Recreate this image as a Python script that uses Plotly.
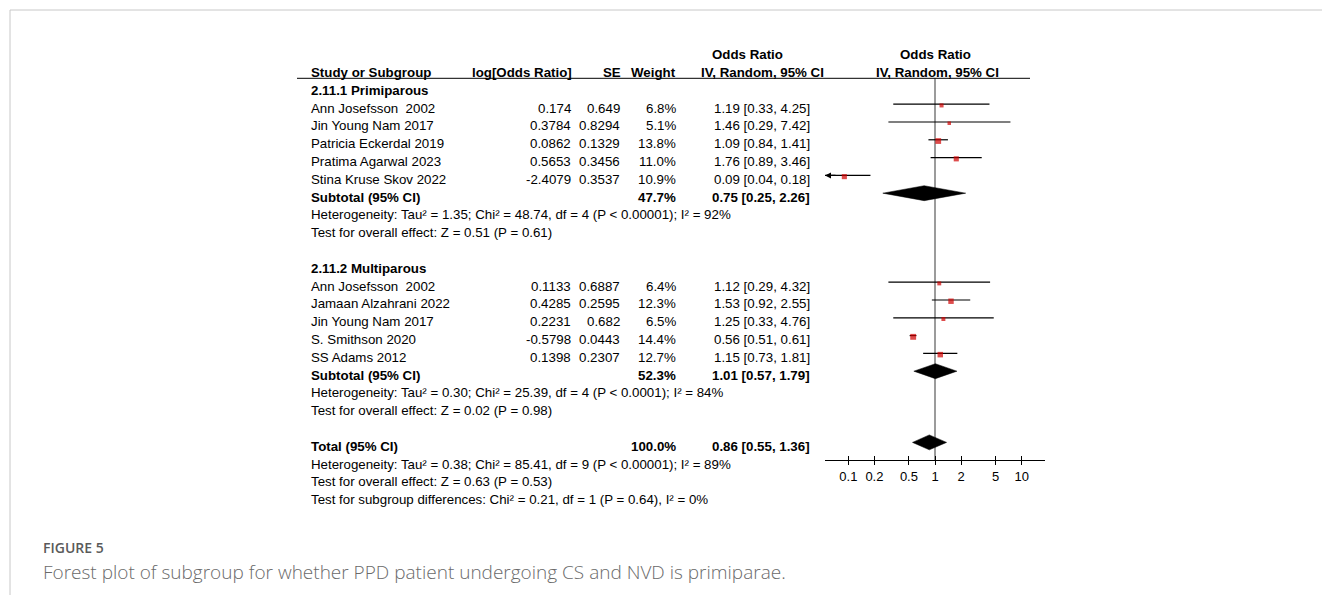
import numpy as np
import plotly.graph_objects as go

W, H = 1322, 595

# ---------------- data ----------------
group_names = ["2.11.1 Primiparous", "2.11.2 Multiparous"]

prim_studies = ["Ann Josefsson  2002", "Jin Young Nam 2017", "Patricia Eckerdal 2019",
                "Pratima Agarwal 2023", "Stina Kruse Skov 2022"]
prim_log = [0.174, 0.3784, 0.0862, 0.5653, -2.4079]
prim_se = [0.649, 0.8294, 0.1329, 0.3456, 0.3537]
prim_w = [6.8, 5.1, 13.8, 11.0, 10.9]
prim_or = [1.19, 1.46, 1.09, 1.76, 0.09]
prim_lo = [0.33, 0.29, 0.84, 0.89, 0.04]
prim_hi = [4.25, 7.42, 1.41, 3.46, 0.18]

multi_studies = ["Ann Josefsson  2002", "Jamaan Alzahrani 2022", "Jin Young Nam 2017",
                 "S. Smithson 2020", "SS Adams 2012"]
multi_log = [0.1133, 0.4285, 0.2231, -0.5798, 0.1398]
multi_se = [0.6887, 0.2595, 0.682, 0.0443, 0.2307]
multi_w = [6.4, 12.3, 6.5, 14.4, 12.7]
multi_or = [1.12, 1.53, 1.25, 0.56, 1.15]
multi_lo = [0.29, 0.92, 0.33, 0.51, 0.73]
multi_hi = [4.32, 2.55, 4.76, 0.61, 1.81]

subtotal_w = [47.7, 52.3]
subtotal_or = [0.75, 1.01]
subtotal_lo = [0.25, 0.57]
subtotal_hi = [2.26, 1.79]

total_w = 100.0
total_or = 0.86
total_lo = 0.55
total_hi = 1.36

subgroup_het = ["Heterogeneity: Tau² = 1.35; Chi² = 48.74, df = 4 (P < 0.00001); I² = 92%",
                "Heterogeneity: Tau² = 0.30; Chi² = 25.39, df = 4 (P < 0.0001); I² = 84%"]
subgroup_test = ["Test for overall effect: Z = 0.51 (P = 0.61)",
                 "Test for overall effect: Z = 0.02 (P = 0.98)"]
total_lines = ["Heterogeneity: Tau² = 0.38; Chi² = 85.41, df = 9 (P < 0.00001); I² = 89%",
               "Test for overall effect: Z = 0.63 (P = 0.53)",
               "Test for subgroup differences: Chi² = 0.21, df = 1 (P = 0.64), I² = 0%"]

tick_vals = [0.1, 0.2, 0.5, 1, 2, 5, 10]
tick_text = ["0.1", "0.2", "0.5", "1", "2", "5", "10"]
null_value = 1

caption_label = "FIGURE 5"
caption_text = "Forest plot of subgroup for whether PPD patient undergoing CS and NVD is primiparae."

# ---------------- layout helpers ----------------
ROW0_PX = 72.5
ROW_PX = 17.8
MARK_SHIFT = -0.22
LOG_MIN, LOG_MAX = -1.269, 1.269
AX_LEFT, AX_RIGHT = 825, 1045
AXIS_Y = 460
HEADER_LINE_Y = 78.3
FONT = "Liberation Sans, Arial, sans-serif"
FS = 13.3


def px2row(py):
    return (py - ROW0_PX) / ROW_PX


annotations = []


def txt(px, row, s, anchor="left", bold=False, size=FS, color="#000000"):
    annotations.append(dict(
        x=px / W, xref="paper", y=row, yref="y", text=("<b>%s</b>" % s) if bold else s,
        showarrow=False, xanchor=anchor, yanchor="middle",
        font=dict(family=FONT, size=size, color=color)))


X_STUDY, X_LOG, X_SE, X_W, X_OR = 309, 573, 622, 678, 812

# headers
txt(747, -1, "Odds Ratio", "center", True)
txt(935, -1, "Odds Ratio", "center", True)
txt(X_STUDY, 0, "Study or Subgroup", "left", True)
txt(X_LOG + 1, 0, "log[Odds Ratio]", "right", True)
txt(X_SE + 1, 0, "SE", "right", True)
txt(X_W, 0, "Weight", "right", True)
txt(762, 0, "IV, Random, 95% CI", "center", True)
txt(937, 0, "IV, Random, 95% CI", "center", True)

fig = go.Figure()

ci_x, ci_y, sq_x, sq_y, sq_s = [], [], [], [], []
arrows = []
diamonds = []

groups = [
    (prim_studies, prim_log, prim_se, prim_w, prim_or, prim_lo, prim_hi),
    (multi_studies, multi_log, multi_se, multi_w, multi_or, multi_lo, multi_hi),
]

row = 1
for g, (names, lg, se, w, o, lo, hi) in enumerate(groups):
    txt(X_STUDY, row, group_names[g], "left", True)
    row += 1
    for i in range(len(names)):
        txt(X_STUDY, row, names[i])
        txt(X_LOG, row, str(lg[i]), "right")
        txt(X_SE, row, str(se[i]), "right")
        txt(X_W, row, "%.1f%%" % w[i], "right")
        txt(X_OR, row, "%.2f [%.2f, %.2f]" % (o[i], lo[i], hi[i]), "right")
        yy = row + MARK_SHIFT
        l_clip = max(lo[i], 10 ** LOG_MIN)
        h_clip = min(hi[i], 10 ** LOG_MAX)
        ci_x += [l_clip, h_clip, None]
        ci_y += [yy, yy, None]
        sq_x.append(o[i]); sq_y.append(yy + 0.07); sq_s.append(1.55 * np.sqrt(w[i]))
        if lo[i] < 10 ** LOG_MIN:
            arrows.append((LOG_MIN, yy, 12))
        if hi[i] > 10 ** LOG_MAX:
            arrows.append((LOG_MAX, yy, -12))
        row += 1
    txt(X_STUDY, row, "Subtotal (95% CI)", "left", True)
    txt(X_W, row, "%.1f%%" % subtotal_w[g], "right", True)
    txt(X_OR, row, "%.2f [%.2f, %.2f]" % (subtotal_or[g], subtotal_lo[g], subtotal_hi[g]), "right", True)
    diamonds.append((subtotal_or[g], subtotal_lo[g], subtotal_hi[g], row + MARK_SHIFT))
    row += 1
    txt(X_STUDY, row, subgroup_het[g]); row += 1
    txt(X_STUDY, row, subgroup_test[g]); row += 1
    row += 1

txt(X_STUDY, row, "Total (95% CI)", "left", True)
txt(X_W, row, "%.1f%%" % total_w, "right", True)
txt(X_OR, row, "%.2f [%.2f, %.2f]" % (total_or, total_lo, total_hi), "right", True)
diamonds.append((total_or, total_lo, total_hi, row + MARK_SHIFT))
row += 1
for s in total_lines:
    txt(X_STUDY, row, s)
    row += 1

# line of no effect
fig.add_trace(go.Scatter(x=[null_value, null_value], y=[px2row(HEADER_LINE_Y), px2row(AXIS_Y)],
                         mode="lines", line=dict(color="#7a7a7a", width=1.5),
                         hoverinfo="skip", showlegend=False, xaxis="x", yaxis="y"))
# CI lines
fig.add_trace(go.Scatter(x=ci_x, y=ci_y, mode="lines", line=dict(color="#000000", width=1.2),
                         hoverinfo="skip", showlegend=False, xaxis="x", yaxis="y"))
# squares
fig.add_trace(go.Scatter(x=sq_x, y=sq_y, mode="markers",
                         marker=dict(symbol="square", size=sq_s, color="#d00000", line=dict(width=0)),
                         hoverinfo="skip", showlegend=False, xaxis="x", yaxis="y"))
# diamonds
DH = 0.42
for (o, lo, hi, yy) in diamonds:
    fig.add_trace(go.Scatter(x=[lo, o, hi, o, lo], y=[yy, yy - DH, yy, yy + DH, yy],
                             mode="lines", fill="toself", fillcolor="#000000",
                             line=dict(color="#000000", width=0.5),
                             hoverinfo="skip", showlegend=False, xaxis="x", yaxis="y"))
# dummy trace for overlay tick axis
fig.add_trace(go.Scatter(x=[1], y=[0], mode="markers", marker=dict(opacity=0),
                         hoverinfo="skip", showlegend=False, xaxis="x2", yaxis="y"))

for (xh, yy, dx) in arrows:
    annotations.append(dict(x=xh, xref="x", y=yy, yref="y", ax=dx, ay=0, axref="pixel", ayref="pixel",
                            showarrow=True, arrowhead=2, arrowsize=1, arrowwidth=1.2,
                            arrowcolor="#000000", text=""))

# captions
annotations.append(dict(x=41 / W, xref="paper", y=(H - 547) / H, yref="paper", text=caption_label,
                        showarrow=False, xanchor="left", yanchor="middle",
                        font=dict(family="Open Sans, sans-serif", size=14, color="#5a5a5a", weight=600)))
annotations.append(dict(x=41 / W, xref="paper", y=(H - 572) / H, yref="paper", text=caption_text,
                        showarrow=False, xanchor="left", yanchor="middle",
                        font=dict(family="Open Sans, sans-serif", size=19, color="#6a6a6a", weight=300)))

shapes = [
    # page frame
    dict(type="line", xref="paper", yref="paper", x0=10 / W, x1=1, y0=(H - 10) / H, y1=(H - 10) / H,
         line=dict(color="#c8c8c8", width=1)),
    dict(type="line", xref="paper", yref="paper", x0=10 / W, x1=10 / W, y0=0, y1=(H - 10) / H,
         line=dict(color="#c8c8c8", width=1)),
    # header underline
    dict(type="line", xref="paper", yref="y", x0=297 / W, x1=1030 / W,
         y0=px2row(HEADER_LINE_Y), y1=px2row(HEADER_LINE_Y),
         line=dict(color="#000000", width=1)),
]

axis_common = dict(type="log", range=[LOG_MIN, LOG_MAX], domain=[AX_LEFT / W, AX_RIGHT / W],
                   anchor="free", position=(H - AXIS_Y) / H, showgrid=False, zeroline=False,
                   tickvals=tick_vals, ticktext=tick_text, tickcolor="#000000", ticklen=4, tickwidth=1.2,
                   fixedrange=True)

fig.update_layout(
    width=W, height=H, margin=dict(l=0, r=0, t=0, b=0),
    paper_bgcolor="#ffffff", plot_bgcolor="rgba(0,0,0,0)",
    showlegend=False,
    xaxis=dict(**axis_common, ticks="outside", showline=True, linecolor="#000000", linewidth=1.2,
               tickfont=dict(family=FONT, size=13, color="#000000")),
    xaxis2=dict(**axis_common, overlaying="x", ticks="inside", showline=False, showticklabels=False),
    yaxis=dict(range=[px2row(H), px2row(0)], domain=[0, 1], visible=False, fixedrange=True),
    annotations=annotations, shapes=shapes,
)

fig.write_html("out.html")
